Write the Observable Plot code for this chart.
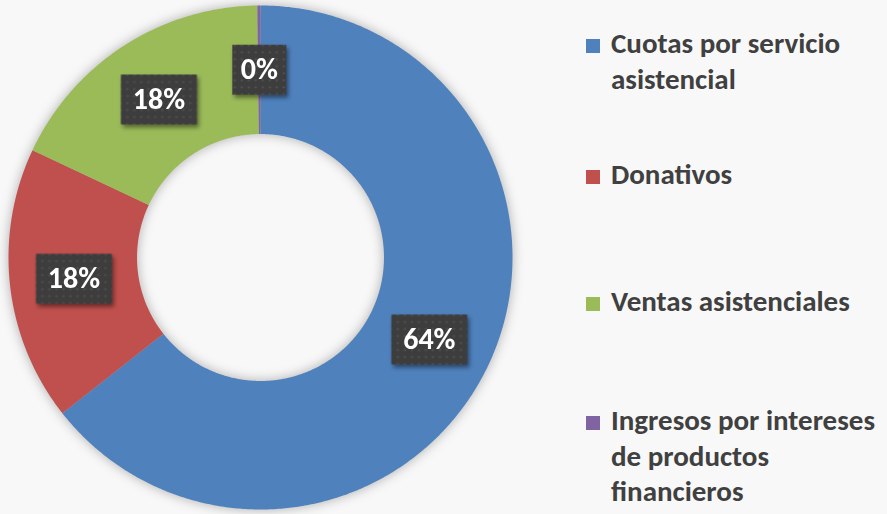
<!DOCTYPE html>
<html><head><meta charset="utf-8">
<script src="https://cdn.jsdelivr.net/npm/d3@7"></script>
<script src="https://cdn.jsdelivr.net/npm/@observablehq/plot@0.6"></script>
<style>
html,body{margin:0;padding:0;background:#f8f8f8;width:887px;height:514px;overflow:hidden}
#chart{position:absolute;left:0;top:0}
#chart svg{background:transparent}
#chart g[aria-label="line"]{filter:drop-shadow(0 0 6px rgba(0,0,0,0.3))}
#chart g[aria-label="dot"]{filter:drop-shadow(2px 3px 2px rgba(0,0,0,0.45))}
#legend{position:absolute;left:586px;top:0;font-family:Calibri,Carlito,Lato,sans-serif;font-weight:700;color:#404040}
.item{position:absolute;left:0;display:flex;align-items:flex-start;font-size:29px;line-height:35.5px;width:300px}
.sw{width:14px;height:14px;margin-top:13px;margin-right:11px;flex:none}
</style></head><body>
<div id="chart"></div><div id="legend"></div>
<script>
const categories = ["Cuotas por servicio asistencial","Donativos","Ventas asistenciales","Ingresos por intereses de productos financieros"];
const legendLines = [["Cuotas por servicio","asistencial"],["Donativos"],["Ventas asistenciales"],["Ingresos por intereses","de productos","financieros"]];
const values = [64.4, 17.6, 17.8, 0.2];
const labels = ["64%","18%","18%","0%"];
const colors = ["#4f81bd","#c0504d","#9bbb59","#8064a2"];

const inner = 0.49;
const arcs = d3.pie().sort(null).value(d => d)(values);
const ring = [];
arcs.forEach((s, i) => {
  const n = Math.max(2, Math.ceil((s.endAngle - s.startAngle) / (Math.PI / 360)));
  for (let k = 0; k <= n; k++) { const a = s.startAngle + (s.endAngle - s.startAngle) * k / n; ring.push({cat: categories[i], x: Math.sin(a), y: Math.cos(a)}); }
  for (let k = n; k >= 0; k--) { const a = s.startAngle + (s.endAngle - s.startAngle) * k / n; ring.push({cat: categories[i], x: inner * Math.sin(a), y: inner * Math.cos(a)}); }
});
const mid = (inner + 1) / 2;
const lab = arcs.map((s, i) => { const a = (s.startAngle + s.endAngle) / 2; return {label: labels[i], x: mid * Math.sin(a), y: mid * Math.cos(a)}; });

const box = {draw(ctx, size) { const r = Math.sqrt(size / Math.PI); ctx.rect(-r, -25, 2 * r, 50); }};

const plot = Plot.plot({
  width: 887, height: 514, margin: 0,
  style: {background: "transparent"},
  x: {domain: [-1, 1], range: [8, 512], axis: null},
  y: {domain: [-1, 1], range: [509, 5], axis: null},
  color: {domain: categories, range: colors},
  marks: [
    Plot.line(ring, {x: "x", y: "y", z: "cat", fill: "cat", stroke: "none", curve: "linear"}),
    Plot.dot(lab.filter(d => d.label.length > 2), {x: "x", y: "y", r: 38, symbol: box, fill: "url(#dots)", stroke: "none"}),
    Plot.dot(lab.filter(d => d.label.length <= 2), {x: "x", y: "y", r: 27, symbol: box, fill: "url(#dots)", stroke: "none"}),
    Plot.text(lab, {x: "x", y: "y", text: "label", fill: "white", fontSize: 30, fontWeight: "bold", fontFamily: "Calibri, Carlito, Lato, sans-serif"})
  ]
});
document.getElementById("chart").appendChild(plot);
const svg = d3.select(plot);
const defs = svg.insert("defs", ":first-child");
const pat = defs.append("pattern").attr("id", "dots").attr("width", 7).attr("height", 7).attr("patternUnits", "userSpaceOnUse");
pat.append("rect").attr("width", 7).attr("height", 7).attr("fill", "#3d3d3d");
pat.append("circle").attr("cx", 3.5).attr("cy", 3.5).attr("r", 1.1).attr("fill", "#555");

const tops = [26, 157, 284, 403];
const lg = document.getElementById("legend");
legendLines.forEach((lines, i) => {
  const it = document.createElement("div");
  it.className = "item"; it.style.top = tops[i] + "px";
  const sw = document.createElement("div"); sw.className = "sw"; sw.style.background = colors[i];
  const tx = document.createElement("div"); tx.innerHTML = lines.join("<br>");
  it.appendChild(sw); it.appendChild(tx); lg.appendChild(it);
});
</script>
</body></html>
